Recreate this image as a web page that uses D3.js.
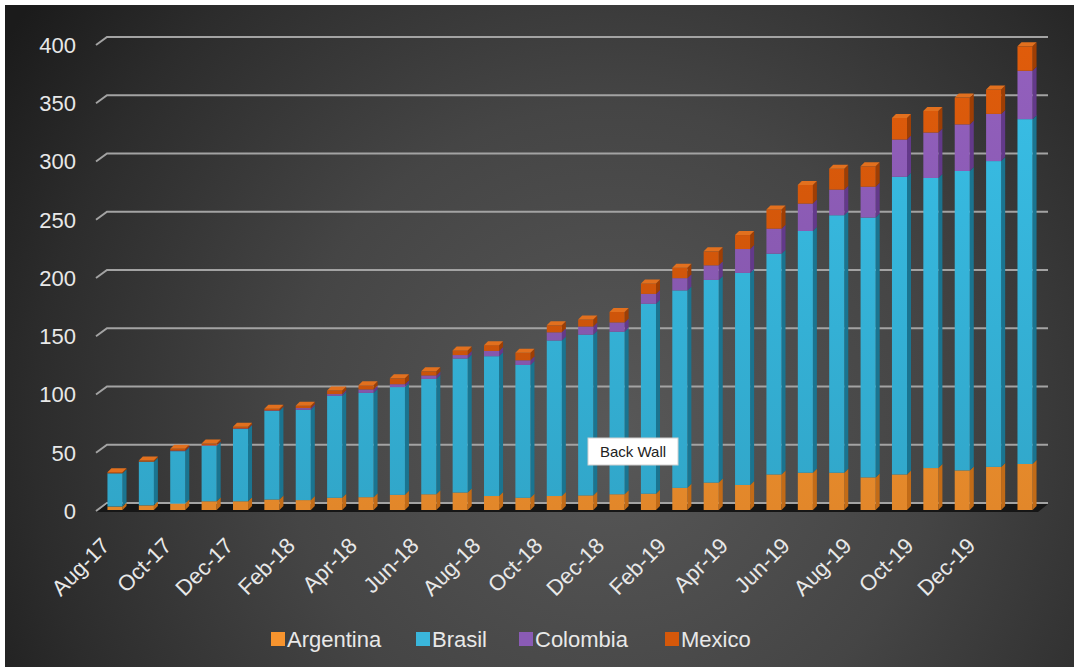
<!DOCTYPE html>
<html>
<head>
<meta charset="utf-8">
<script src="https://cdn.jsdelivr.net/npm/d3@7"></script>
<style>
  body { margin: 0; background: #fff; }
  svg { display: block; font-family: "Liberation Sans", Arial, sans-serif; }
</style>
</head>
<body>
<div id="chart"></div>
<script>
// data
var months = ["Aug-17","Sep-17","Oct-17","Nov-17","Dec-17","Jan-18","Feb-18","Mar-18","Apr-18","May-18",
  "Jun-18","Jul-18","Aug-18","Sep-18","Oct-18","Nov-18","Dec-18","Jan-19","Feb-19","Mar-19",
  "Apr-19","May-19","Jun-19","Jul-19","Aug-19","Sep-19","Oct-19","Nov-19","Dec-19","Jan-20"];
var argentina = [3, 4, 5.5, 7.5, 7.5, 9, 8.5, 10.5, 11, 13, 13.5, 15, 12, 10.5, 12, 12.5, 13.5, 14, 19, 23.5,
  21.5, 30.5, 32, 32, 28, 30.5, 36, 34, 37, 39.5];
var brasil = [28.5, 37.5, 45, 47.5, 62, 76, 77.5, 87.5, 89.5, 92.5, 99, 115, 120, 114, 133.5, 138, 139.5, 163, 169.5, 174,
  182, 189.5, 207.5, 221, 223, 255.5, 249, 257, 262.5, 296];
var colombia = [0, 0, 0.5, 0.5, 0.5, 0.5, 1.5, 1.5, 3, 2.5, 3, 3, 4.5, 4, 7, 7, 8, 8.5, 10.5, 12.5,
  20.5, 21.5, 23.5, 22, 26.5, 32, 39, 40, 40.5, 41.5];
var mexico = [1, 1, 1.5, 1.5, 1.5, 1.5, 2, 3, 3.5, 5, 3.5, 4, 5, 6.5, 6, 6, 9, 9, 9, 12,
  12, 16.5, 16, 18, 17.5, 18.5, 18.5, 23, 21, 21];
var seriesNames = ["Argentina", "Brasil", "Colombia", "Mexico"];
var yTicks = [0, 50, 100, 150, 200, 250, 300, 350, 400];

// front / side / top colours per series
var colours = {
  Argentina: { front: "#f7942e", side: "#c26b17", top: "#ffab4a", key: "#f7942e" },
  Brasil:    { front: "#36b6dc", side: "#1a7490", top: "#4cc8ea", key: "#3ab6db" },
  Colombia:  { front: "#8b5bb4", side: "#63398a", top: "#a070c8", key: "#8a5bb5" },
  Mexico:    { front: "#d4570a", side: "#9e3e04", top: "#e2701e", key: "#d5580a" }
};

var svgWidth = 1074, svgHeight = 667;
var dx = 4, dy = -4; // bar depth

var table = months.map(function(m, i) {
  return { month: m, Argentina: argentina[i], Brasil: brasil[i], Colombia: colombia[i], Mexico: mexico[i] };
});
var stacked = d3.stack().keys(seriesNames)(table);

var svg = d3.select("#chart").append("svg").attr("width", svgWidth).attr("height", svgHeight);
var defs = svg.append("defs");

// background
var bg = defs.append("radialGradient").attr("id", "bg")
  .attr("gradientUnits", "userSpaceOnUse")
  .attr("cx", 610).attr("cy", 430).attr("r", 720);
bg.append("stop").attr("offset", "0%").attr("stop-color", "#585858");
bg.append("stop").attr("offset", "45%").attr("stop-color", "#454545");
bg.append("stop").attr("offset", "80%").attr("stop-color", "#2c2c2c");
bg.append("stop").attr("offset", "100%").attr("stop-color", "#1b1b1b");

// front-face shading, lighter at the top
seriesNames.forEach(function(s) {
  var g = defs.append("linearGradient").attr("id", "grad-" + s)
    .attr("gradientUnits", "userSpaceOnUse")
    .attr("x1", 0).attr("y1", 40).attr("x2", 0).attr("y2", 510);
  g.append("stop").attr("offset", "0%").attr("stop-color", d3.color(colours[s].front).brighter(0.15));
  g.append("stop").attr("offset", "100%").attr("stop-color", d3.color(colours[s].front).darker(0.25));
});

svg.append("rect").attr("x", 5).attr("y", 5).attr("width", svgWidth - 5).attr("height", svgHeight - 5)
  .attr("fill", "url(#bg)");

// scales
var x = d3.scaleBand().domain(months).range([99.3, 1040.7]).paddingInner(0.52).paddingOuter(0.26);
var yBack = d3.scaleLinear().domain([0, 400]).range([503, 37]);
var yFront = d3.scaleLinear().domain([0, 400]).range([510, 44]);

// gridlines on back wall with the slanted side-wall stub
yTicks.forEach(function(t) {
  var yy = yBack(t);
  svg.append("path")
    .attr("d", "M96," + (yy + 8) + "L107," + yy + "L1048," + yy)
    .attr("fill", "none")
    .attr("stroke", "#a3a3a3")
    .attr("stroke-width", 2);
  svg.append("text")
    .attr("x", 76)
    .attr("y", yy + 8)
    .attr("dy", ".36em")
    .attr("text-anchor", "end")
    .attr("font-size", 22)
    .attr("fill", "#e8e8e8")
    .text(t);
});

// floor
svg.append("path")
  .attr("d", "M107,504L1048,504L1038,512L97,512Z")
  .attr("fill", "#161616");

// bars
months.forEach(function(m, i) {
  var x0 = x(m), w = x.bandwidth(), xr = x0 + w;
  stacked.forEach(function(layer, k) {
    var s = layer.key;
    var d = layer[i];
    if (d[1] - d[0] <= 0) return;
    var yTop = yFront(d[1]), yBot = yFront(d[0]);
    svg.append("path")
      .attr("d", "M" + xr + "," + yTop + "L" + (xr + dx) + "," + (yTop + dy) + "L" + (xr + dx) + "," + (yBot + dy) + "L" + xr + "," + yBot + "Z")
      .attr("fill", colours[s].side);
    svg.append("rect")
      .attr("x", x0).attr("y", yTop)
      .attr("width", w).attr("height", yBot - yTop)
      .attr("fill", "url(#grad-" + s + ")");
  });
  // top face on the highest segment
  var topLayer = stacked[stacked.length - 1];
  var yT = yFront(topLayer[i][1]);
  svg.append("path")
    .attr("d", "M" + x0 + "," + yT + "L" + (x0 + dx) + "," + (yT + dy) + "L" + (xr + dx) + "," + (yT + dy) + "L" + xr + "," + yT + "Z")
    .attr("fill", colours[topLayer.key].top);
});

// x labels, every second month
months.forEach(function(m, i) {
  if (i % 2 != 0) return;
  var lx = x(m) + x.bandwidth() / 2 - 4 - 13 * i / 28;
  var ly = 547;
  svg.append("text")
    .attr("transform", "translate(" + lx + "," + ly + ") rotate(-45)")
    .attr("text-anchor", "end")
    .attr("font-size", 22)
    .attr("fill", "#e8e8e8")
    .text(m);
});

// legend
var legendX = [271, 416, 519, 665];
seriesNames.forEach(function(s, k) {
  svg.append("rect")
    .attr("x", legendX[k]).attr("y", 632)
    .attr("width", 14).attr("height", 14)
    .attr("fill", colours[s].key);
  svg.append("text")
    .attr("x", legendX[k] + 16).attr("y", 639)
    .attr("dy", ".36em")
    .attr("font-size", 22)
    .attr("fill", "#e8e8e8")
    .text(s);
});

// "Back Wall" hover label
svg.append("rect")
  .attr("x", 588).attr("y", 438).attr("width", 90).attr("height", 27)
  .attr("fill", "#ffffff").attr("stroke", "#cfcfcf").attr("stroke-width", 1);
svg.append("text")
  .attr("x", 633).attr("y", 452).attr("dy", ".36em")
  .attr("text-anchor", "middle")
  .attr("font-size", 15)
  .attr("fill", "#222")
  .text("Back Wall");
</script>
</body>
</html>
